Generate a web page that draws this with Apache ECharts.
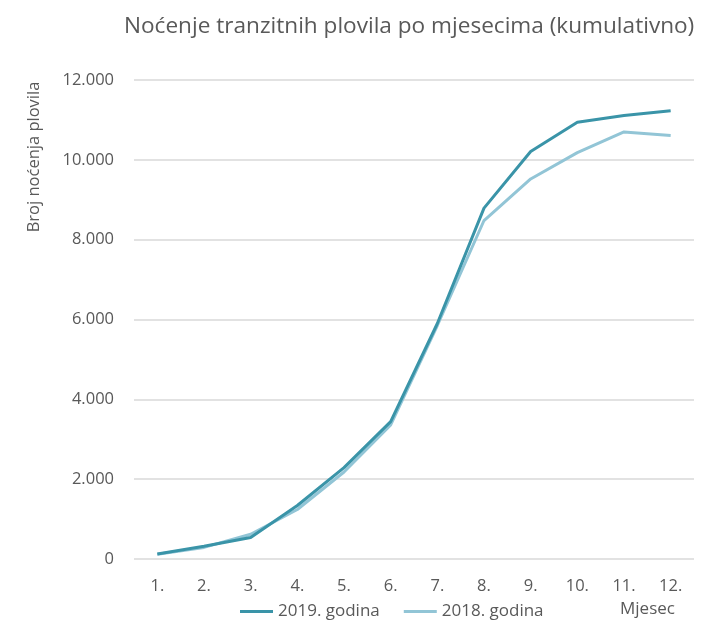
<!DOCTYPE html>
<html>
<head>
<meta charset="utf-8">
<script src="https://cdn.jsdelivr.net/npm/echarts@6/dist/echarts.min.js"></script>
<style>
  html, body { margin: 0; padding: 0; background: #fff; }
  #chart { width: 704px; height: 621px; }
</style>
</head>
<body>
<div id="chart"></div>
<script>
// mjeseci (kategorije)
var months = ['1.', '2.', '3.', '4.', '5.', '6.', '7.', '8.', '9.', '10.', '11.', '12.'];
// kumulativno noćenje
var data2019 = [125, 320, 540, 1340, 2290, 3440, 5900, 8790, 10210, 10940, 11110, 11230];
var data2018 = [120, 290, 620, 1240, 2180, 3360, 5850, 8480, 9520, 10180, 10700, 10610];

var font = '"Open Sans", sans-serif';

function fmt(v) {
  return String(v).replace(/\B(?=(\d{3})+(?!\d))/g, '.');
}

var chart = echarts.init(document.getElementById('chart'));
chart.setOption({
  animation: false,
  title: {
    text: 'Noćenje tranzitnih plovila po mjesecima (kumulativno)',
    left: 119,
    top: 10,
    textStyle: { fontFamily: font, fontSize: 22.6, fontWeight: 'normal', color: '#595959' }
  },
  legend: {
    top: 598,
    left: 235,
    itemWidth: 33,
    itemHeight: 3,
    itemGap: 24,
    icon: 'rect',
    textStyle: { fontFamily: font, fontSize: 17, color: '#595959' },
    data: ['2019. godina', '2018. godina']
  },
  grid: { left: 134, right: 10, top: 80, bottom: 62 },
  xAxis: {
    type: 'category',
    data: months,
    boundaryGap: true,
    axisLine: { show: false },
    axisTick: { show: false },
    axisLabel: { fontFamily: font, fontSize: 16.5, color: '#595959', margin: 19 }
  },
  yAxis: {
    type: 'value',
    min: 0,
    max: 12000,
    interval: 2000,
    axisLine: { show: false },
    axisTick: { show: false },
    splitLine: { lineStyle: { color: '#d9d9d9', width: 1.5 } },
    axisLabel: {
      fontFamily: font, fontSize: 16.5, color: '#595959', margin: 20,
      formatter: fmt
    }
  },
  graphic: [
    {
      type: 'text',
      x: 34, y: 157,
      rotation: Math.PI / 2,
      style: {
        text: 'Broj noćenja plovila',
        font: '16.5px ' + font,
        fill: '#595959',
        align: 'center',
        verticalAlign: 'middle'
      }
    },
    {
      type: 'text',
      x: 620, y: 609,
      style: {
        text: 'Mjesec',
        font: '17px ' + font,
        fill: '#595959',
        align: 'left',
        verticalAlign: 'middle'
      }
    }
  ],
  series: [
    {
      name: '2018. godina',
      type: 'line',
      data: data2018,
      symbol: 'none',
      z: 2,
      itemStyle: { color: '#92c5d6' },
      lineStyle: { color: '#92c5d6', width: 3 }
    },
    {
      name: '2019. godina',
      type: 'line',
      data: data2019,
      symbol: 'none',
      z: 3,
      itemStyle: { color: '#3a94a8' },
      lineStyle: { color: '#3a94a8', width: 3 }
    }
  ]
});
</script>
</body>
</html>
